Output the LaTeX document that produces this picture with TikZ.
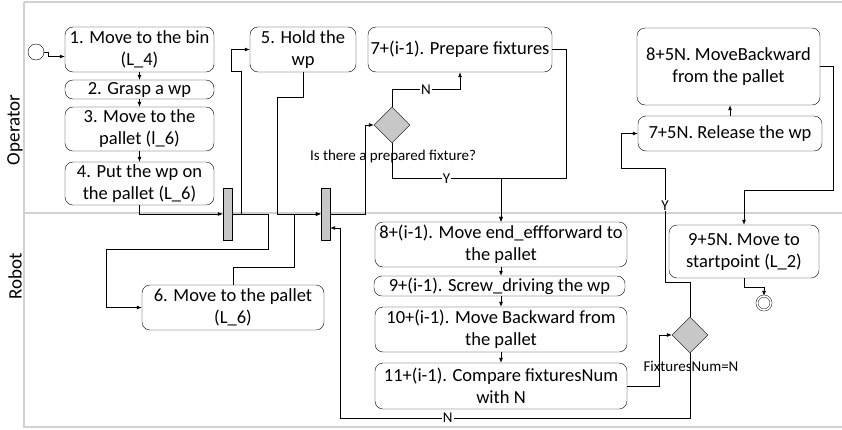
\documentclass[tikz,border=0pt]{standalone}
\usepackage{fontspec}
\setmainfont{Carlito}
\usetikzlibrary{arrows.meta,shapes.geometric}

\begin{document}
\begin{tikzpicture}[x=1pt,y=-1pt,
    every text node part/.style={align=center},
    act/.style={draw,rounded corners=8pt,inner sep=0pt,font=\fontsize{18.5}{22}\selectfont},
    bar/.style={draw,fill=black!22,minimum width=9pt,minimum height=52pt,inner sep=0pt},
    decide/.style={diamond,aspect=1,draw,fill=black!22,minimum width=36pt,minimum height=36pt,inner sep=0pt},
    flow/.style={-{Latex[length=5pt,width=4pt]},line width=0.7pt},
    lbl/.style={fill=white,inner sep=1pt,font=\fontsize{15}{17}\selectfont},
    lane/.style={draw=black!18,line width=2.5pt}]

    \useasboundingbox (0,0) rectangle (842,429);

    % swimlanes
    \draw[lane] (24,2) -- (842,2);
    \draw[lane] (24,2) -- (24,427) -- (842,427);
    \draw[lane] (24,213) -- (842,213);
    \node[rotate=90,font=\fontsize{19}{21}\selectfont] (Operator) at (15,130) {Operator};
    \node[rotate=90,font=\fontsize{19}{21}\selectfont] (Robot)    at (15,276) {Robot};

    % operator
    \node[circle,draw,minimum size=16pt,inner sep=0pt] (Start) at (36,52) {};
    \node[act,minimum width=149pt,minimum height=45pt] (MoveBin)    at (139.5,49.5)  {1. Move to the bin\\(L\_4)};
    \node[act,minimum width=149pt,minimum height=19pt] (GraspWp)    at (139.5,89.5)  {2. Grasp a wp};
    \node[act,minimum width=149pt,minimum height=44pt] (MovePallet) at (139.5,129)   {3. Move to the\\pallet (l\_6)};
    \node[act,minimum width=149pt,minimum height=43pt] (PutWp)      at (139.5,183.5) {4. Put the wp on\\the pallet (L\_6)};
    \node[act,minimum width=106pt,minimum height=45pt] (HoldWp)     at (303,49.5)    {5. Hold the\\wp};
    \node[act,minimum width=184pt,minimum height=45pt] (PrepFix)    at (460,49.5)    {7+(i-1). Prepare fixtures};
    \node[decide] (AskFix) at (392,125) {};
    \node[font=\fontsize{15}{17}\selectfont] (AskFixTxt) at (393,156) {Is there a prepared fixture?};

    \node[act,minimum width=183pt,minimum height=77pt] (BackOp)   at (728.5,66.5) {8+5N. MoveBackward\\from the pallet};
    \node[act,minimum width=184pt,minimum height=35pt] (Release)  at (730,133.5)  {7+5N. Release the wp};

    % robot
    \node[bar] (Fork1) at (227.5,214) {};
    \node[bar] (Fork2) at (325.5,214) {};
    \node[act,minimum width=182pt,minimum height=45pt] (RobPallet) at (233,307.5) {6. Move to the pallet\\(L\_6)};
    \node[act,minimum width=252pt,minimum height=45pt] (Forward)   at (501,244.5) {8+(i-1). Move end\_effforward to\\the pallet};
    \node[act,minimum width=251pt,minimum height=20pt] (Screw)     at (499.5,286) {9+(i-1). Screw\_driving the wp};
    \node[act,minimum width=252pt,minimum height=45pt] (Backward)  at (501,329.5) {10+(i-1). Move Backward from\\the pallet};
    \node[act,minimum width=252pt,minimum height=46pt] (Compare)   at (501,386)   {11+(i-1). Compare fixturesNum\\with N};
    \node[decide] (AskNum) at (690,335) {};
    \node[font=\fontsize{15}{17}\selectfont] (AskNumTxt) at (691,366) {FixturesNum=N};
    \node[act,minimum width=150pt,minimum height=53pt] (StartPt) at (744,251.5) {9+5N. Move to\\startpoint (L\_2)};
    \node[circle,draw,double,double distance=1.6pt,minimum size=14pt,inner sep=0pt] (End) at (764,303) {};

    \draw[flow] (Start.east) -- ++(4,0) |- ([yshift=-7pt]MoveBin.west);
    \draw[flow] (MoveBin.south) -- (GraspWp.north);
    \draw[flow] (GraspWp.south) -- (MovePallet.north);
    \draw[flow] (MovePallet.south) -- (PutWp.north);
    \draw[flow] (PutWp.south) |- (Fork1.west);
    \draw[flow] (Fork1.east) -- (241,214) -- (241,71) -- (231,71) |- (HoldWp.west);
    \draw[flow] (Fork1.east) -| (268,249) -- (106,249) |- (RobPallet.west);
    \draw[flow] (HoldWp.south) |- (277,97) |- (Fork2.west);
    \draw[flow] (RobPallet.north) |- (294,267) |- (Fork2.west);
    \draw[flow] (Fork2.east) -- (365,214) |- (AskFix.west);
    \draw[flow] (AskFix.north) -- ++(0,-17) -| node[lbl,pos=0.25] {N} (PrepFix.south);
    \draw[flow] (AskFix.south) -- ++(0,35) -| node[lbl,pos=0.25] {Y} (Forward.north);
    \draw[flow] (PrepFix.east) -| (566,178) -| (Forward.north);

    \draw[flow] (Forward.south) -- (Screw.north -| Forward.south);
    \draw[flow] (Screw.south -| Forward.south) -- (Backward.north);
    \draw[flow] (Backward.south) -- (Compare.north);
    \draw[flow] (Compare.east) -- ++(32,0) |- (AskNum.west);
    \draw[flow] (AskNum.south) |- node[lbl,pos=0.846] {N} (340,418) |- ([yshift=-14pt]Fork2.east);
    \draw[flow] (AskNum.north) |- (665,282) -- node[lbl,pos=0.67] {Y} (665,168) -- (621,168) |- (Release.west);
    \draw[flow] (Release.north) -- (Release.north |- BackOp.south);
    \draw[flow] (BackOp.east) -- ++(13,0) -- ++(0,124) -| (StartPt.north);
    \draw[flow] (StartPt.south) -- ++(0,9) -| (End.north);
  \end{tikzpicture}
\end{document}
